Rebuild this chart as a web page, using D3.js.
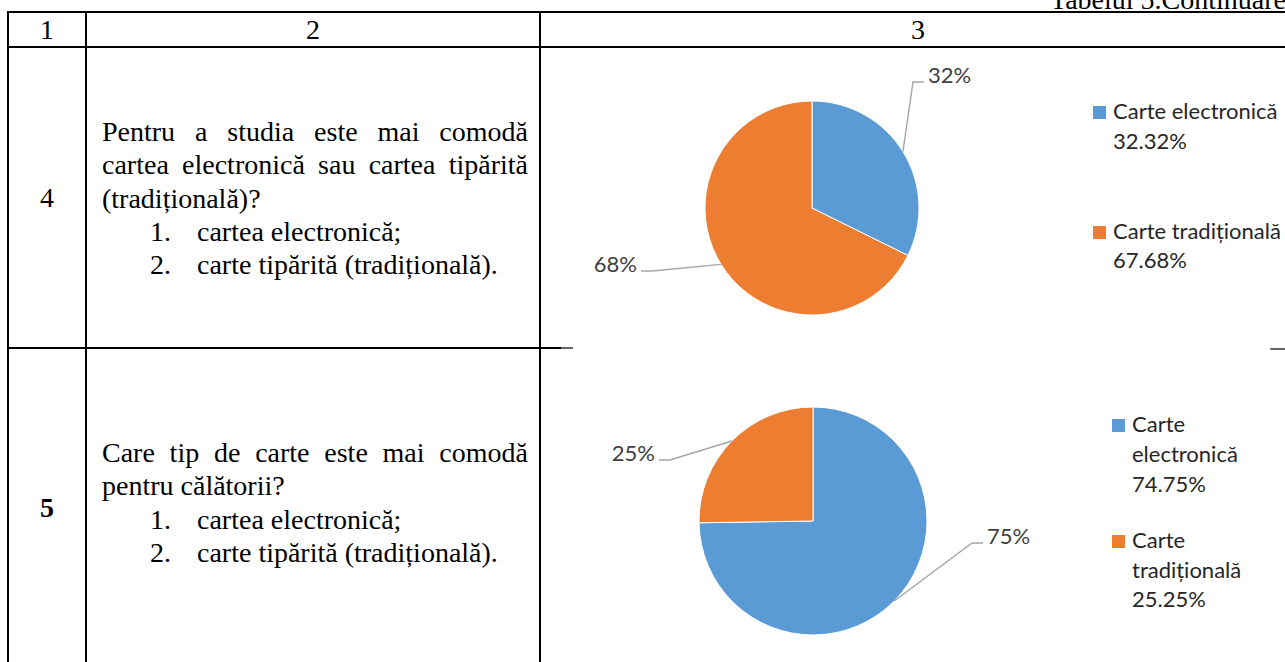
<!DOCTYPE html>
<html>
<head>
<meta charset="utf-8">
<script src="https://cdn.jsdelivr.net/npm/d3@7"></script>
<style>
  html, body { margin: 0; padding: 0; background: #fff; overflow: hidden; }
  svg { display: block; }
</style>
</head>
<body>
<svg id="page" width="1285" height="662"></svg>
<script>
// ---- data ----
const caption = "Tabelul 5.Continuare";
const headerLabels = ["1", "2", "3"];
const rowNumbers = ["4", "5"];
const questionLines = [
  ["Pentru a studia este mai comodă", "cartea electronică sau cartea tipărită", "(tradițională)?"],
  ["Care tip de carte este mai comodă", "pentru călătorii?"]
];
const answerOptions = ["cartea electronică;", "carte tipărită (tradițională)."];
const categories = ["Carte electronică", "Carte tradițională"];
const sharesQ4 = [32.32, 67.68];
const sharesQ5 = [74.75, 25.25];
const colors = ["#5b9bd5", "#ed7d31"];

// ---- layout ----
const svg = d3.select("#page");
const colX = [8, 86, 540, 1296];
const rowY = [12, 47, 348, 700];
const serif = "'Liberation Serif', 'Times New Roman', serif";
const sans = "Lato, 'Open Sans', sans-serif";
const serifSize = 28;

const table = svg.append("g");
const lines = table.append("g").attr("stroke", "#000").attr("stroke-width", 2);

// horizontal rules
[rowY[0], rowY[1]].forEach(y => {
  lines.append("line").attr("x1", colX[0] - 1).attr("x2", 1285).attr("y1", y).attr("y2", y);
});
lines.append("line").attr("x1", colX[0] - 1).attr("x2", 561).attr("y1", rowY[2]).attr("y2", rowY[2]);
lines.append("line").attr("x1", 561).attr("x2", 573).attr("y1", rowY[2]).attr("y2", rowY[2])
  .attr("stroke-width", 1.2);
lines.append("line").attr("x1", 1270).attr("x2", 1285).attr("y1", rowY[2] + 1).attr("y2", rowY[2] + 1)
  .attr("stroke-width", 1.2);
// vertical rules
colX.slice(0, 3).forEach(x => {
  lines.append("line").attr("x1", x).attr("x2", x).attr("y1", rowY[0] - 1).attr("y2", 662);
});

// caption (runs off the right edge)
svg.append("text")
  .attr("x", 1050).attr("y", 9)
  .attr("font-family", serif).attr("font-size", serifSize)
  .text(caption);

// header numbers
table.selectAll(".hdr")
  .data(headerLabels)
  .enter().append("text")
  .attr("x", (d, i) => (colX[i] + colX[i + 1]) / 2)
  .attr("y", 39)
  .attr("text-anchor", "middle")
  .attr("font-family", serif).attr("font-size", serifSize)
  .text(d => d);

// row numbers
const rowNumY = [207, 517];
table.selectAll(".num")
  .data(rowNumbers)
  .enter().append("text")
  .attr("x", (colX[0] + colX[1]) / 2)
  .attr("y", (d, i) => rowNumY[i])
  .attr("text-anchor", "middle")
  .attr("font-family", serif).attr("font-size", serifSize)
  .attr("font-weight", (d, i) => i === 1 ? "bold" : "normal")
  .text(d => d);

// question text, justified lines like in Word
function writeLine(g, text, x0, x1, y, justify) {
  if (!justify) {
    g.append("text").attr("x", x0).attr("y", y).text(text);
    return;
  }
  const words = text.split(" ");
  const nodes = words.map(w => g.append("text").attr("y", y).text(w));
  const widths = nodes.map(n => n.node().getComputedTextLength());
  const gap = (x1 - x0 - d3.sum(widths)) / (words.length - 1);
  let x = x0;
  nodes.forEach((n, i) => { n.attr("x", x); x += widths[i] + gap; });
}

const textLeft = 102, textRight = 528, lineStep = 33.3;
const firstBaseline = [141, 462];
questionLines.forEach((qLines, r) => {
  const g = table.append("g")
    .attr("font-family", serif).attr("font-size", serifSize).attr("fill", "#000");
  let y = firstBaseline[r];
  qLines.forEach((t, i) => {
    writeLine(g, t, textLeft, textRight, y, i < qLines.length - 1);
    y += lineStep;
  });
  answerOptions.forEach((t, i) => {
    g.append("text").attr("x", 150).attr("y", y).text(`${i + 1}.`);
    g.append("text").attr("x", 197).attr("y", y).text(t);
    y += lineStep;
  });
});

// ---- pie charts ----
const pie = d3.pie().sort(null).value(d => d);

const charts = [
  {
    shares: sharesQ4, cx: 812, cy: 208, r: 107,
    // elbow of each leader line, relative to the centre
    elbows: [[101, -126], [-160, 63]],
    legend: { x: 1093, baselines: [[119, 149], [239, 268]], wrap: false }
  },
  {
    shares: sharesQ5, cx: 813, cy: 521, r: 114,
    elbows: [[159, 22], [-143, -61]],
    legend: { x: 1112, baselines: [[432, 462, 492], [548, 578, 607]], wrap: true }
  }
];

charts.forEach(c => {
  const g = svg.append("g").attr("transform", `translate(${c.cx},${c.cy})`);
  const arcs = pie(c.shares);
  const arc = d3.arc().innerRadius(0).outerRadius(c.r);
  const edge = d3.arc().innerRadius(c.r).outerRadius(c.r);

  g.selectAll("path.slice")
    .data(arcs)
    .enter().append("path")
    .attr("class", "slice")
    .attr("d", arc)
    .attr("fill", (d, i) => colors[i])
    .attr("stroke", "#fff")
    .attr("stroke-width", 1);

  // leader lines + rounded percent labels
  arcs.forEach((d, i) => {
    const [sx, sy] = edge.centroid(d);
    const [ex, ey] = c.elbows[i];
    const dir = ex >= 0 ? 1 : -1;
    g.append("polyline")
      .attr("points", [[sx, sy], [ex, ey], [ex + dir * 11, ey]].map(p => p.join(",")).join(" "))
      .attr("fill", "none")
      .attr("stroke", "#a6a6a6")
      .attr("stroke-width", 1.4);
    g.append("text")
      .attr("x", ex + dir * 15)
      .attr("y", ey + 1)
      .attr("text-anchor", dir > 0 ? "start" : "end")
      .attr("font-family", sans).attr("font-size", 22)
      .attr("fill", "#404040")
      .text(`${Math.round(d.data)}%`);
  });

  // legend
  const lg = svg.append("g").attr("font-family", sans).attr("font-size", 22).attr("fill", "#262626");
  categories.forEach((name, i) => {
    const base = c.legend.baselines[i];
    const textLines = (c.legend.wrap ? name.split(" ") : [name])
      .concat(`${c.shares[i].toFixed(2)}%`);
    lg.append("rect")
      .attr("x", c.legend.x).attr("y", base[0] - 13)
      .attr("width", 13).attr("height", 13)
      .attr("fill", colors[i]);
    textLines.forEach((t, k) => {
      lg.append("text")
        .attr("x", c.legend.x + 20)
        .attr("y", base[k])
        .text(t);
    });
  });
});
</script>
</body>
</html>
